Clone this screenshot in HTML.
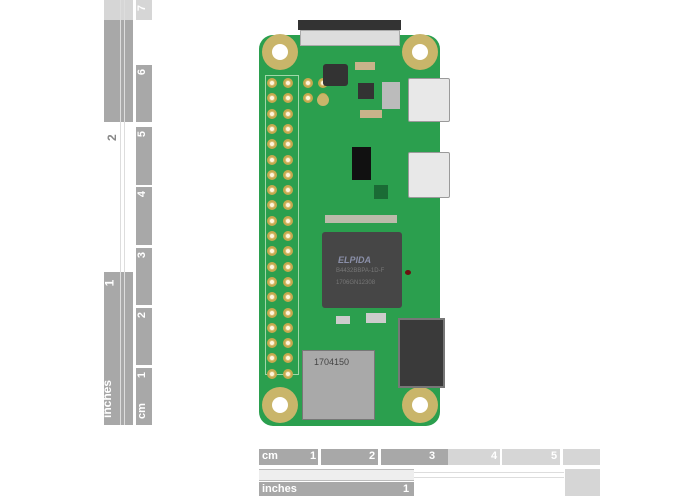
<!DOCTYPE html>
<html><head><style>
body{margin:0;width:700px;height:500px;background:#fff;position:relative;overflow:hidden;font-family:"Liberation Sans",sans-serif}
div{position:absolute;box-sizing:border-box}
.g{background:#a8a8a8}
.lg{background:#d6d6d6}
.t{color:#fff;font-size:11px;font-weight:bold}
.pad{width:10px;height:10px;border-radius:50%;background:#d9c27a;border:2px solid #c7a94e}
.pad::after{content:"";position:absolute;left:1px;top:1px;width:4px;height:4px;border-radius:50%;background:#fff6dc}
.hole{width:36px;height:36px;border-radius:50%;background:#c9b56a}
.hole::after{content:"";position:absolute;left:10px;top:10px;width:16px;height:16px;border-radius:50%;background:#fff}
.usb{background:#e8e8e8;border:1px solid #9a9a9a;border-radius:2px}
.sm{background:#c8b38a}
</style></head><body>
<!-- left ruler -->
<div class="lg" style="left:104px;top:0;width:29px;height:20px"></div>
<div class="g" style="left:104px;top:20px;width:29px;height:102px"></div>
<div class="g" style="left:104px;top:272px;width:29px;height:153px"></div>
<div style="left:120px;top:0;width:1px;height:425px;background:#ddd"></div>
<div style="left:124px;top:0;width:1px;height:425px;background:#ddd"></div>
<div class="t" style="left:104px;top:126px;width:16px;font-size:12px;color:#888;transform:rotate(-90deg)">2</div>
<div class="t" style="left:106px;top:276px;transform:rotate(-90deg);font-size:12px">1</div>
<div class="t" style="left:88px;top:392px;transform:rotate(-90deg);font-size:12px">inches</div>
<div class="lg" style="left:136px;top:0;width:16px;height:20px"></div>
<div class="g" style="left:136px;top:65px;width:16px;height:57px"></div>
<div class="g" style="left:136px;top:127px;width:16px;height:58px"></div>
<div class="g" style="left:136px;top:187px;width:16px;height:58px"></div>
<div class="g" style="left:136px;top:248px;width:16px;height:57px"></div>
<div class="g" style="left:136px;top:308px;width:16px;height:57px"></div>
<div class="g" style="left:136px;top:368px;width:16px;height:57px"></div>
<div class="t" style="left:139px;top:2px;transform:rotate(-90deg)">7</div>
<div class="t" style="left:139px;top:66px;transform:rotate(-90deg)">6</div>
<div class="t" style="left:139px;top:128px;transform:rotate(-90deg)">5</div>
<div class="t" style="left:139px;top:188px;transform:rotate(-90deg)">4</div>
<div class="t" style="left:139px;top:249px;transform:rotate(-90deg)">3</div>
<div class="t" style="left:139px;top:309px;transform:rotate(-90deg)">2</div>
<div class="t" style="left:139px;top:369px;transform:rotate(-90deg)">1</div>
<div class="t" style="left:134px;top:405px;transform:rotate(-90deg)">cm</div>
<!-- bottom ruler -->
<div class="g" style="left:259px;top:449px;width:59px;height:16px"></div>
<div class="g" style="left:321px;top:449px;width:57px;height:16px"></div>
<div class="g" style="left:381px;top:449px;width:67px;height:16px"></div>
<div class="lg" style="left:448px;top:449px;width:52px;height:16px"></div>
<div class="lg" style="left:502px;top:449px;width:58px;height:16px"></div>
<div class="lg" style="left:563px;top:449px;width:37px;height:16px"></div>
<div class="t" style="left:262px;top:450px">cm</div>
<div class="t" style="left:310px;top:450px">1</div>
<div class="t" style="left:369px;top:450px">2</div>
<div class="t" style="left:429px;top:450px">3</div>
<div class="t" style="left:491px;top:450px">4</div>
<div class="t" style="left:551px;top:450px">5</div>
<div style="left:259px;top:469px;width:155px;height:12px;border-top:1px solid #bbb;border-bottom:1px solid #bbb;background:#eee"></div>
<div style="left:414px;top:472px;width:150px;height:6px;border-top:1px solid #ddd;border-bottom:1px solid #ddd"></div>
<div class="g" style="left:259px;top:482px;width:155px;height:14px"></div>
<div class="t" style="left:262px;top:483px">inches</div>
<div class="t" style="left:403px;top:483px">1</div>
<div class="lg" style="left:565px;top:469px;width:35px;height:27px"></div>
<!-- board -->
<div style="left:259px;top:35px;width:181px;height:391px;background:#2b9f4e;border-radius:14px"></div>
<div style="left:298px;top:20px;width:103px;height:10px;background:#333"></div>
<div style="left:300px;top:30px;width:100px;height:16px;background:#ddd;border:1px solid #aaa"></div>
<div class="hole" style="left:262px;top:34px"></div>
<div class="hole" style="left:402px;top:34px"></div>
<div class="hole" style="left:262px;top:387px"></div>
<div class="hole" style="left:402px;top:387px"></div>
<div style="left:265px;top:75px;width:34px;height:300px;border:1px solid #9fd8a8"></div>
<div id="gp"></div>
<div class="pad" style="left:303px;top:78px"></div><div class="pad" style="left:318px;top:78px"></div>
<div class="pad" style="left:303px;top:93px"></div><div class="pad" style="left:318px;top:93px"></div>
<div style="left:317px;top:94px;width:12px;height:12px;border-radius:50%;background:#c9b56a"></div>
<div style="left:323px;top:64px;width:25px;height:22px;background:#333;border-radius:3px"></div>
<div style="left:358px;top:83px;width:16px;height:16px;background:#333"></div>
<div class="sm" style="left:382px;top:82px;width:18px;height:27px;background:#bbb"></div>
<div class="sm" style="left:360px;top:110px;width:22px;height:8px"></div>
<div class="sm" style="left:355px;top:62px;width:20px;height:8px"></div>
<div class="usb" style="left:408px;top:78px;width:42px;height:44px"></div>
<div class="usb" style="left:408px;top:152px;width:42px;height:46px"></div>
<div style="left:352px;top:147px;width:19px;height:33px;background:#111"></div>
<div style="left:374px;top:185px;width:14px;height:14px;background:#1a6b35"></div>
<div style="left:322px;top:232px;width:80px;height:76px;background:#464646;border-radius:3px"></div>
<div style="left:338px;top:255px;font-size:9px;color:#8a8fa8;font-style:italic;font-weight:bold">ELPIDA</div>
<div style="left:336px;top:268px;font-size:6px;color:#777">B4432BBPA-1D-F</div>
<div style="left:336px;top:280px;font-size:6px;color:#777">1706GN12308</div>
<div style="left:325px;top:215px;width:72px;height:8px;background:#bba"></div>
<div style="left:336px;top:316px;width:14px;height:8px;background:#ccc"></div>
<div style="left:366px;top:313px;width:20px;height:10px;background:#ccc"></div>
<div style="left:398px;top:318px;width:47px;height:70px;background:#3a3a3a;border:2px solid #777"></div>
<div style="left:302px;top:350px;width:73px;height:70px;background:#a9a9a9;border:1px solid #777"></div>
<div style="left:314px;top:357px;font-size:9px;color:#444">1704150</div>
<div style="left:350px;top:130px;width:26px;height:4px;background:#2b9f4e"></div>
<div style="left:405px;top:270px;width:6px;height:5px;border-radius:50%;background:#6b1010"></div>
<script>
var h='';for(var r=0;r<20;r++)for(var c=0;c<2;c++)h+='<div class="pad" style="left:'+(267+c*16)+'px;top:'+(78+r*15.3)+'px"></div>';
document.getElementById('gp').outerHTML=h;
</script>
</body></html>
